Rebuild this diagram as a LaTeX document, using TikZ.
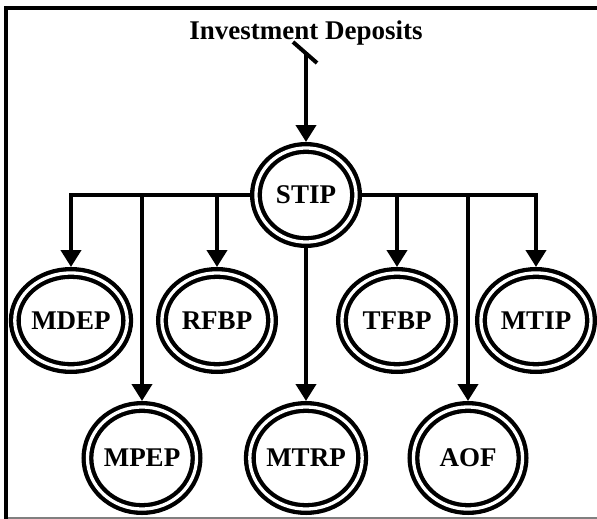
\documentclass[tikz,border=0pt]{standalone}
\usepackage{fontspec}
\setmainfont{Liberation Serif}
\usetikzlibrary{shapes.geometric,arrows.meta}
\begin{document}
\begin{tikzpicture}[x=1pt,y=-1pt,
  ring/.style={ellipse,draw,double,line width=4.3pt,double distance=3.3pt,
    inner sep=0pt,outer sep=5.95pt,font=\fontsize{27}{32}\selectfont\bfseries},
  ringS/.style={ring,minimum width=100.1pt,minimum height=94.1pt},
  ringM/.style={ring,minimum width=110.1pt,minimum height=95.1pt},
  ringB/.style={ring,minimum width=109.1pt,minimum height=102.1pt},
  conn/.style={line width=4pt},
  arr/.style={conn,-{Triangle[length=17pt,width=20pt]}},
  lbl/.style={font=\fontsize{27}{32}\selectfont\bfseries,inner sep=0pt}]
\useasboundingbox (0,0) rectangle (597,519);
% frame
\draw[line width=4pt,line join=miter] (597,7.7) -- (5.5,7.7) -- (5.5,519);
\draw[line width=1.5pt,gray] (8,518) -- (597,518);
% nodes
\node[lbl,anchor=base] (title) at (306,40) {Investment Deposits};
\node[ringS] (STIP) at (306,195) {STIP};
\node[ringM] (MDEP) at (71,320.5) {MDEP};
\node[ringM] (RFBP) at (217,320.5) {RFBP};
\node[ringM] (TFBP) at (397,320.5) {TFBP};
\node[ringM] (MTIP) at (536,320.5) {MTIP};
\node[ringB] (MPEP) at (142,458) {MPEP};
\node[ringB] (MTRP) at (306,458) {MTRP};
\node[ringB] (AOF) at (468,458) {AOF};
% input arrow with tick
\coordinate (top) at (306,53);
\coordinate (tickA) at (293,42);
\coordinate (tickB) at (317,63);
\draw[conn] (tickA) -- (tickB);
\draw[arr] (top) -- (STIP.north);
% branches
\draw[arr] (STIP.west) -| (MDEP.north);
\draw[arr] (STIP.west -| MPEP.north) -- (MPEP.north);
\draw[arr] (STIP.west -| RFBP.north) -- (RFBP.north);
\draw[arr] (STIP.south) -- (MTRP.north);
\draw[arr] (STIP.east) -| (MTIP.north);
\draw[arr] (STIP.east -| TFBP.north) -- (TFBP.north);
\draw[arr] (STIP.east -| AOF.north) -- (AOF.north);
\end{tikzpicture}
\end{document}
